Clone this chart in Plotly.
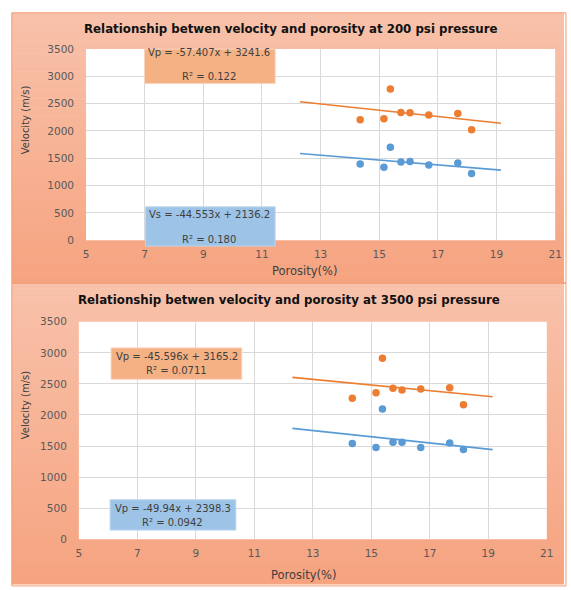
import plotly.graph_objects as go
import numpy as np

# ---------------- data ----------------
porosity = [14.35, 15.16, 15.38, 15.74, 16.05, 16.69, 17.68, 18.15]
vp_200 = [2208, 2226, 2771, 2340, 2334, 2292, 2322, 2023]
vs_200 = [1394, 1335, 1700, 1430, 1442, 1376, 1412, 1221]
vp_3500 = [2270, 2359, 2911, 2428, 2401, 2417, 2438, 2165]
vs_3500 = [1540, 1477, 2097, 1561, 1561, 1477, 1550, 1445]

trend_x = [12.3, 19.15]
slopes_200 = [-57.407, -44.553]
intercepts_200 = [3241.6, 2136.2]
r2_200 = ["0.122", "0.180"]
labels_200 = ["Vp", "Vs"]

slopes_3500 = [-45.596, -49.94]
intercepts_3500 = [3165.2, 2398.3]
r2_3500 = ["0.0711", "0.0942"]
labels_3500 = ["Vp", "Vp"]

titles = ["Relationship betwen velocity and porosity at 200 psi pressure",
          "Relationship betwen velocity and porosity at 3500 psi pressure"]
x_title = "Porosity(%)"
y_title = "Velocity (m/s)"
x_ticks = [5, 7, 9, 11, 13, 15, 17, 19, 21]
y_ticks = [0, 500, 1000, 1500, 2000, 2500, 3000, 3500]

# ---------------- layout helpers ----------------
W, H = 571, 590
FONT = "DejaVu Sans"
ORANGE = "#ED7D31"
BLUE = "#5B9BD5"


def fx(px):
    return px / W


def fy(py):
    return 1 - py / H


fig = go.Figure()

shapes = []
annotations = []


def gradient(x0, x1, y0, y1, c0, c1, n=60):
    for i in range(n):
        t = i / (n - 1)
        c = tuple(int(round(a + (b - a) * t)) for a, b in zip(c0, c1))
        ya = y0 + (y1 - y0) * i / n
        yb = y0 + (y1 - y0) * (i + 1) / n
        shapes.append(dict(type="rect", xref="paper", yref="paper",
                           x0=fx(x0), x1=fx(x1), y0=fy(ya), y1=fy(yb + 0.6),
                           fillcolor="rgb(%d,%d,%d)" % c, line=dict(width=0),
                           layer="below"))


c_top = (248, 193, 170)
c_bot = (246, 164, 128)
gradient(9, W, 7, 282, c_top, c_bot)
gradient(9, W, 283, H, c_top, c_bot)

# panel borders
shapes.append(dict(type="rect", xref="paper", yref="paper", x0=fx(9), x1=fx(W + 2),
                   y0=fy(282.5), y1=fy(7), line=dict(color="#F29A6E", width=1),
                   fillcolor="rgba(0,0,0,0)", layer="below"))
shapes.append(dict(type="rect", xref="paper", yref="paper", x0=fx(9), x1=fx(W + 2),
                   y0=fy(H + 2), y1=fy(283), line=dict(color="#F29A6E", width=1),
                   fillcolor="rgba(0,0,0,0)", layer="below"))

panels = [
    dict(xd=(84.5, 562), yd=(44, 239), vp=vp_200, vs=vs_200, slopes=slopes_200,
         inter=intercepts_200, r2=r2_200, lab=labels_200, title=titles[0],
         title_pos=(293, 23), ytitle=(23, 116), xtitle=(307, 271),
         boxes=[(144, 277, 44, 79), (145, 277, 205, 245)],
         lines=[((210, 47.5), (210, 72)), ((210, 213), (210, 238))]),
    dict(xd=(77.2, 553.5), yd=(322.3, 544.3), vp=vp_3500, vs=vs_3500, slopes=slopes_3500,
         inter=intercepts_3500, r2=r2_3500, lab=labels_3500, title=titles[1],
         title_pos=(291, 300), ytitle=(23, 407), xtitle=(306, 581),
         boxes=[(110, 243, 349, 381), (109, 237, 504, 535)],
         lines=[((177, 357.5), (177, 372)), ((173, 513), (173, 527))]),
]

box_fill = ["#F4B183", "#9DC3E6"]
series_col = [ORANGE, BLUE]

for i, p in enumerate(panels):
    xa = "x" if i == 0 else "x2"
    ya = "y" if i == 0 else "y2"
    # white plot area
    shapes.append(dict(type="rect", xref="paper", yref="paper",
                       x0=fx(p["xd"][0]), x1=fx(p["xd"][1]),
                       y0=fy(p["yd"][1]), y1=fy(p["yd"][0]),
                       fillcolor="white", line=dict(width=0), layer="below"))
    for j, vals in enumerate([p["vp"], p["vs"]]):
        fig.add_trace(go.Scatter(x=porosity, y=vals, mode="markers",
                                 marker=dict(color=series_col[j], size=7.5),
                                 xaxis=xa, yaxis=ya, showlegend=False))
        tx = np.array(trend_x)
        ty = p["slopes"][j] * tx + p["inter"][j]
        fig.add_trace(go.Scatter(x=tx, y=ty, mode="lines",
                                 line=dict(color=series_col[j], width=1.6),
                                 xaxis=xa, yaxis=ya, showlegend=False))
        bx0, bx1, by0, by1 = p["boxes"][j]
        shapes.append(dict(type="rect", xref="paper", yref="paper",
                           x0=fx(bx0), x1=fx(bx1), y0=fy(by1), y1=fy(by0),
                           fillcolor=box_fill[j], line=dict(color="#FAD3BE" if j == 0 else "#BDD7EE", width=1),
                           layer="above"))
        eq = "%s = %sx + %s" % (p["lab"][j], p["slopes"][j], p["inter"][j])
        r2 = "R² = %s" % p["r2"][j]
        for k, txt in enumerate([eq, r2]):
            cx, cy = p["lines"][j][k]
            annotations.append(dict(text=txt, xref="paper", yref="paper",
                                    x=fx(cx), y=fy(cy), xanchor="center", yanchor="middle",
                                    showarrow=False,
                                    font=dict(family=FONT, size=10, color="#404040")))
    # titles
    annotations.append(dict(text="<b>%s</b>" % p["title"], xref="paper", yref="paper",
                            x=fx(p["title_pos"][0]), y=fy(p["title_pos"][1]),
                            xanchor="center", yanchor="middle", showarrow=False,
                            font=dict(family=FONT, size=11.8, color="#111111")))
    annotations.append(dict(text=y_title, xref="paper", yref="paper",
                            x=fx(p["ytitle"][0]), y=fy(p["ytitle"][1]), textangle=-90,
                            xanchor="center", yanchor="middle", showarrow=False,
                            font=dict(family=FONT, size=10, color="#404040")))
    annotations.append(dict(text=x_title, xref="paper", yref="paper",
                            x=fx(p["xtitle"][0]), y=fy(p["xtitle"][1]),
                            xanchor="center", yanchor="middle", showarrow=False,
                            font=dict(family=FONT, size=11.5, color="#404040")))

axis_common = dict(showgrid=True, gridcolor="#D9D9D9", gridwidth=1, zeroline=False,
                   showline=False, ticks="", tickfont=dict(family=FONT, size=10.5, color="#595959"))

fig.update_layout(
    width=W, height=H, margin=dict(l=0, r=0, t=0, b=0),
    paper_bgcolor="white", plot_bgcolor="white",
    showlegend=False,
    shapes=shapes, annotations=annotations,
    xaxis=dict(domain=[fx(panels[0]["xd"][0]), fx(panels[0]["xd"][1])], anchor="y",
               range=[5, 21], tickvals=x_ticks, ticklabelstandoff=6, **axis_common),
    yaxis=dict(domain=[fy(panels[0]["yd"][1]), fy(panels[0]["yd"][0])], anchor="x",
               range=[0, 3500], tickvals=y_ticks, ticklabelstandoff=11, **axis_common),
    xaxis2=dict(domain=[fx(panels[1]["xd"][0]), fx(panels[1]["xd"][1])], anchor="y2",
                range=[5, 21], tickvals=x_ticks, ticklabelstandoff=6, **axis_common),
    yaxis2=dict(domain=[fy(panels[1]["yd"][1]), fy(panels[1]["yd"][0])], anchor="x2",
                range=[0, 3500], tickvals=y_ticks, ticklabelstandoff=11, **axis_common),
)

fig.write_html("out.html")
